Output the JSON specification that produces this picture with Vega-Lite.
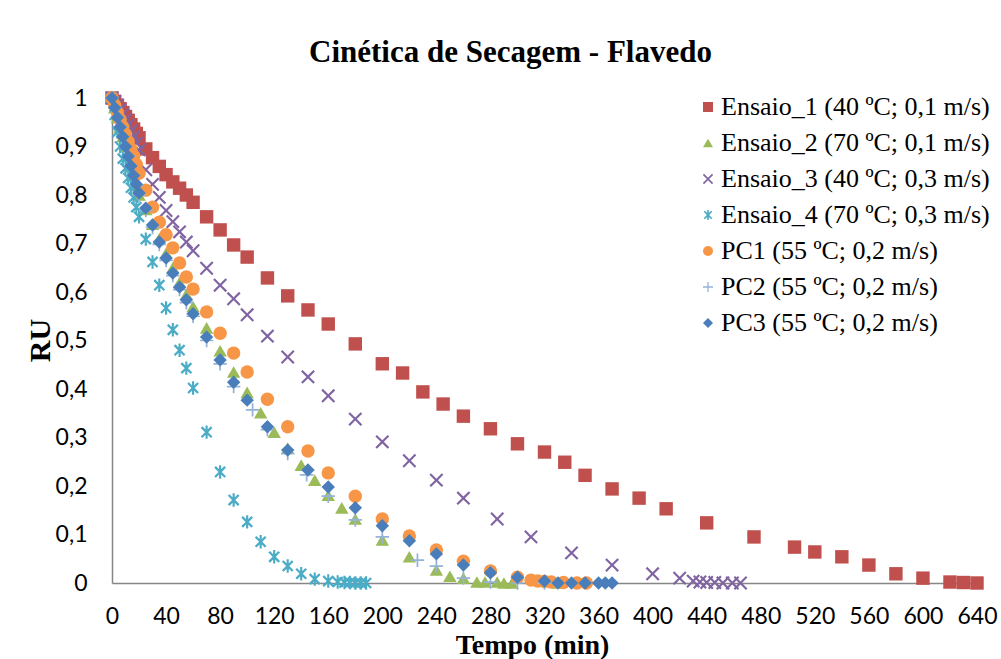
{
  "$schema": "https://vega.github.io/schema/vega-lite/v6.json",
  "width": 865,
  "height": 485,
  "autosize": "none",
  "padding": {"left": 112, "top": 98, "right": 24, "bottom": 76},
  "background": "white",
  "title": {"text": "Cinética de Secagem - Flavedo", "font": "Liberation Serif", "fontWeight": "bold", "fontSize": 31, "color": "black", "anchor": "middle", "frame": "group", "dx": -34, "baseline": "alphabetic", "offset": -6},
  "config": {"view": {"stroke": null}},
  "data": {"values": [
{"s":"E1","t":0,"ru":1},{"s":"E1","t":2,"ru":0.993},{"s":"E1","t":4,"ru":0.985},{"s":"E1","t":6,"ru":0.978},{"s":"E1","t":8,"ru":0.97},{"s":"E1","t":10,"ru":0.962},{"s":"E1","t":12,"ru":0.954},{"s":"E1","t":14,"ru":0.945},{"s":"E1","t":16,"ru":0.936},{"s":"E1","t":18,"ru":0.927},{"s":"E1","t":20,"ru":0.918},{"s":"E1","t":25,"ru":0.895},{"s":"E1","t":30,"ru":0.877},{"s":"E1","t":35,"ru":0.859},{"s":"E1","t":40,"ru":0.842},{"s":"E1","t":45,"ru":0.827},{"s":"E1","t":50,"ru":0.814},{"s":"E1","t":55,"ru":0.8},{"s":"E1","t":60,"ru":0.785},{"s":"E1","t":70,"ru":0.755},{"s":"E1","t":80,"ru":0.728},{"s":"E1","t":90,"ru":0.697},{"s":"E1","t":100,"ru":0.672},{"s":"E1","t":115,"ru":0.629},{"s":"E1","t":130,"ru":0.592},{"s":"E1","t":145,"ru":0.563},{"s":"E1","t":160,"ru":0.534},{"s":"E1","t":180,"ru":0.493},{"s":"E1","t":200,"ru":0.452},{"s":"E1","t":215,"ru":0.433},{"s":"E1","t":230,"ru":0.394},{"s":"E1","t":245,"ru":0.369},{"s":"E1","t":260,"ru":0.344},{"s":"E1","t":280,"ru":0.318},{"s":"E1","t":300,"ru":0.287},{"s":"E1","t":320,"ru":0.27},{"s":"E1","t":335,"ru":0.249},{"s":"E1","t":350,"ru":0.222},{"s":"E1","t":370,"ru":0.194},{"s":"E1","t":390,"ru":0.175},{"s":"E1","t":410,"ru":0.153},{"s":"E1","t":440,"ru":0.124},{"s":"E1","t":475,"ru":0.095},{"s":"E1","t":505,"ru":0.074},{"s":"E1","t":520,"ru":0.064},{"s":"E1","t":540,"ru":0.054},{"s":"E1","t":560,"ru":0.037},{"s":"E1","t":580,"ru":0.019},{"s":"E1","t":600,"ru":0.01},{"s":"E1","t":620,"ru":0.002},{"s":"E1","t":630,"ru":0.001},{"s":"E1","t":640,"ru":0},
{"s":"E2","t":0,"ru":1},{"s":"E2","t":2,"ru":0.98},{"s":"E2","t":4,"ru":0.96},{"s":"E2","t":6,"ru":0.94},{"s":"E2","t":8,"ru":0.92},{"s":"E2","t":10,"ru":0.9},{"s":"E2","t":12,"ru":0.88},{"s":"E2","t":14,"ru":0.86},{"s":"E2","t":16,"ru":0.84},{"s":"E2","t":18,"ru":0.82},{"s":"E2","t":20,"ru":0.8},{"s":"E2","t":25,"ru":0.77},{"s":"E2","t":30,"ru":0.74},{"s":"E2","t":35,"ru":0.71},{"s":"E2","t":40,"ru":0.68},{"s":"E2","t":45,"ru":0.65},{"s":"E2","t":50,"ru":0.62},{"s":"E2","t":55,"ru":0.595},{"s":"E2","t":60,"ru":0.57},{"s":"E2","t":70,"ru":0.526},{"s":"E2","t":80,"ru":0.479},{"s":"E2","t":90,"ru":0.435},{"s":"E2","t":100,"ru":0.393},{"s":"E2","t":110,"ru":0.351},{"s":"E2","t":120,"ru":0.311},{"s":"E2","t":130,"ru":0.278},{"s":"E2","t":140,"ru":0.243},{"s":"E2","t":150,"ru":0.212},{"s":"E2","t":160,"ru":0.181},{"s":"E2","t":170,"ru":0.155},{"s":"E2","t":180,"ru":0.132},{"s":"E2","t":200,"ru":0.089},{"s":"E2","t":220,"ru":0.054},{"s":"E2","t":240,"ru":0.027},{"s":"E2","t":250,"ru":0.014},{"s":"E2","t":260,"ru":0.01},{"s":"E2","t":270,"ru":0.002},{"s":"E2","t":276,"ru":0.002},{"s":"E2","t":285,"ru":0.002},{"s":"E2","t":290,"ru":0},{"s":"E2","t":296,"ru":0},{"s":"E2","t":330,"ru":0},
{"s":"E3","t":0,"ru":1},{"s":"E3","t":2,"ru":0.993},{"s":"E3","t":4,"ru":0.985},{"s":"E3","t":6,"ru":0.976},{"s":"E3","t":8,"ru":0.966},{"s":"E3","t":10,"ru":0.955},{"s":"E3","t":12,"ru":0.944},{"s":"E3","t":14,"ru":0.932},{"s":"E3","t":16,"ru":0.92},{"s":"E3","t":18,"ru":0.907},{"s":"E3","t":20,"ru":0.893},{"s":"E3","t":25,"ru":0.852},{"s":"E3","t":30,"ru":0.822},{"s":"E3","t":35,"ru":0.795},{"s":"E3","t":40,"ru":0.768},{"s":"E3","t":45,"ru":0.745},{"s":"E3","t":50,"ru":0.724},{"s":"E3","t":55,"ru":0.703},{"s":"E3","t":60,"ru":0.685},{"s":"E3","t":70,"ru":0.649},{"s":"E3","t":80,"ru":0.614},{"s":"E3","t":90,"ru":0.586},{"s":"E3","t":100,"ru":0.553},{"s":"E3","t":115,"ru":0.509},{"s":"E3","t":130,"ru":0.466},{"s":"E3","t":145,"ru":0.425},{"s":"E3","t":160,"ru":0.386},{"s":"E3","t":180,"ru":0.338},{"s":"E3","t":200,"ru":0.291},{"s":"E3","t":220,"ru":0.252},{"s":"E3","t":240,"ru":0.212},{"s":"E3","t":260,"ru":0.175},{"s":"E3","t":285,"ru":0.132},{"s":"E3","t":310,"ru":0.095},{"s":"E3","t":340,"ru":0.062},{"s":"E3","t":370,"ru":0.037},{"s":"E3","t":400,"ru":0.019},{"s":"E3","t":420,"ru":0.01},{"s":"E3","t":430,"ru":0.004},{"s":"E3","t":435,"ru":0.002},{"s":"E3","t":440,"ru":0.001},{"s":"E3","t":446,"ru":0.001},{"s":"E3","t":452,"ru":0},{"s":"E3","t":459,"ru":0},{"s":"E3","t":465,"ru":0},
{"s":"E4","t":0,"ru":1},{"s":"E4","t":2,"ru":0.965},{"s":"E4","t":4,"ru":0.93},{"s":"E4","t":6,"ru":0.9},{"s":"E4","t":8,"ru":0.875},{"s":"E4","t":10,"ru":0.855},{"s":"E4","t":12,"ru":0.835},{"s":"E4","t":14,"ru":0.815},{"s":"E4","t":16,"ru":0.795},{"s":"E4","t":18,"ru":0.775},{"s":"E4","t":20,"ru":0.755},{"s":"E4","t":25,"ru":0.709},{"s":"E4","t":30,"ru":0.662},{"s":"E4","t":35,"ru":0.614},{"s":"E4","t":40,"ru":0.567},{"s":"E4","t":45,"ru":0.522},{"s":"E4","t":50,"ru":0.48},{"s":"E4","t":55,"ru":0.443},{"s":"E4","t":60,"ru":0.402},{"s":"E4","t":70,"ru":0.311},{"s":"E4","t":80,"ru":0.229},{"s":"E4","t":90,"ru":0.171},{"s":"E4","t":100,"ru":0.126},{"s":"E4","t":110,"ru":0.085},{"s":"E4","t":120,"ru":0.054},{"s":"E4","t":130,"ru":0.035},{"s":"E4","t":140,"ru":0.019},{"s":"E4","t":150,"ru":0.008},{"s":"E4","t":160,"ru":0.004},{"s":"E4","t":167,"ru":0.002},{"s":"E4","t":172,"ru":0.001},{"s":"E4","t":176,"ru":0.001},{"s":"E4","t":180,"ru":0},{"s":"E4","t":184,"ru":0},{"s":"E4","t":188,"ru":0},
{"s":"PC1","t":0,"ru":1},{"s":"PC1","t":2,"ru":0.985},{"s":"PC1","t":4,"ru":0.97},{"s":"PC1","t":6,"ru":0.955},{"s":"PC1","t":8,"ru":0.94},{"s":"PC1","t":10,"ru":0.925},{"s":"PC1","t":12,"ru":0.91},{"s":"PC1","t":14,"ru":0.895},{"s":"PC1","t":16,"ru":0.88},{"s":"PC1","t":18,"ru":0.863},{"s":"PC1","t":20,"ru":0.845},{"s":"PC1","t":25,"ru":0.81},{"s":"PC1","t":30,"ru":0.775},{"s":"PC1","t":35,"ru":0.744},{"s":"PC1","t":40,"ru":0.718},{"s":"PC1","t":45,"ru":0.691},{"s":"PC1","t":50,"ru":0.66},{"s":"PC1","t":55,"ru":0.631},{"s":"PC1","t":60,"ru":0.606},{"s":"PC1","t":70,"ru":0.559},{"s":"PC1","t":80,"ru":0.515},{"s":"PC1","t":90,"ru":0.474},{"s":"PC1","t":100,"ru":0.435},{"s":"PC1","t":115,"ru":0.379},{"s":"PC1","t":130,"ru":0.322},{"s":"PC1","t":145,"ru":0.272},{"s":"PC1","t":160,"ru":0.227},{"s":"PC1","t":180,"ru":0.179},{"s":"PC1","t":200,"ru":0.132},{"s":"PC1","t":220,"ru":0.097},{"s":"PC1","t":240,"ru":0.068},{"s":"PC1","t":260,"ru":0.045},{"s":"PC1","t":280,"ru":0.025},{"s":"PC1","t":300,"ru":0.012},{"s":"PC1","t":310,"ru":0.006},{"s":"PC1","t":315,"ru":0.004},{"s":"PC1","t":320,"ru":0.003},{"s":"PC1","t":325,"ru":0.002},{"s":"PC1","t":334,"ru":0.001},{"s":"PC1","t":344,"ru":0},{"s":"PC1","t":351,"ru":0},
{"s":"PC2","t":0,"ru":1},{"s":"PC2","t":2,"ru":0.98},{"s":"PC2","t":4,"ru":0.96},{"s":"PC2","t":6,"ru":0.94},{"s":"PC2","t":8,"ru":0.92},{"s":"PC2","t":10,"ru":0.9},{"s":"PC2","t":12,"ru":0.88},{"s":"PC2","t":14,"ru":0.86},{"s":"PC2","t":16,"ru":0.84},{"s":"PC2","t":18,"ru":0.82},{"s":"PC2","t":20,"ru":0.8},{"s":"PC2","t":25,"ru":0.768},{"s":"PC2","t":30,"ru":0.733},{"s":"PC2","t":35,"ru":0.698},{"s":"PC2","t":40,"ru":0.665},{"s":"PC2","t":45,"ru":0.634},{"s":"PC2","t":50,"ru":0.605},{"s":"PC2","t":55,"ru":0.578},{"s":"PC2","t":60,"ru":0.55},{"s":"PC2","t":70,"ru":0.5},{"s":"PC2","t":80,"ru":0.452},{"s":"PC2","t":90,"ru":0.405},{"s":"PC2","t":104,"ru":0.357},{"s":"PC2","t":115,"ru":0.316},{"s":"PC2","t":130,"ru":0.267},{"s":"PC2","t":144,"ru":0.223},{"s":"PC2","t":160,"ru":0.179},{"s":"PC2","t":180,"ru":0.13},{"s":"PC2","t":200,"ru":0.095},{"s":"PC2","t":226,"ru":0.047},{"s":"PC2","t":240,"ru":0.035},{"s":"PC2","t":260,"ru":0.01},{"s":"PC2","t":280,"ru":0.002},{"s":"PC2","t":300,"ru":0},{"s":"PC2","t":320,"ru":0},
{"s":"PC3","t":0,"ru":1},{"s":"PC3","t":2,"ru":0.98},{"s":"PC3","t":4,"ru":0.96},{"s":"PC3","t":6,"ru":0.94},{"s":"PC3","t":8,"ru":0.92},{"s":"PC3","t":10,"ru":0.9},{"s":"PC3","t":12,"ru":0.88},{"s":"PC3","t":14,"ru":0.86},{"s":"PC3","t":16,"ru":0.84},{"s":"PC3","t":18,"ru":0.822},{"s":"PC3","t":20,"ru":0.804},{"s":"PC3","t":25,"ru":0.773},{"s":"PC3","t":30,"ru":0.738},{"s":"PC3","t":35,"ru":0.703},{"s":"PC3","t":40,"ru":0.67},{"s":"PC3","t":45,"ru":0.639},{"s":"PC3","t":50,"ru":0.61},{"s":"PC3","t":55,"ru":0.584},{"s":"PC3","t":60,"ru":0.555},{"s":"PC3","t":70,"ru":0.507},{"s":"PC3","t":80,"ru":0.46},{"s":"PC3","t":90,"ru":0.414},{"s":"PC3","t":100,"ru":0.377},{"s":"PC3","t":115,"ru":0.322},{"s":"PC3","t":130,"ru":0.274},{"s":"PC3","t":145,"ru":0.233},{"s":"PC3","t":160,"ru":0.198},{"s":"PC3","t":180,"ru":0.155},{"s":"PC3","t":200,"ru":0.118},{"s":"PC3","t":220,"ru":0.087},{"s":"PC3","t":240,"ru":0.06},{"s":"PC3","t":260,"ru":0.037},{"s":"PC3","t":280,"ru":0.021},{"s":"PC3","t":300,"ru":0.012},{"s":"PC3","t":320,"ru":0.004},{"s":"PC3","t":330,"ru":0},{"s":"PC3","t":340,"ru":0},{"s":"PC3","t":350,"ru":0},{"s":"PC3","t":360,"ru":0},{"s":"PC3","t":365,"ru":0},{"s":"PC3","t":370,"ru":0}
  ]},
  "mark": {"type": "point", "filled": true, "opacity": 1, "size": 180, "strokeWidth": 0},
  "encoding": {
    "x": {"field": "t", "type": "quantitative",
      "scale": {"domain": [0, 640], "nice": false, "zero": false},
      "axis": {"title": "Tempo (min)", "values": [0,40,80,120,160,200,240,280,320,360,400,440,480,520,560,600,640],
        "grid": false, "ticks": false, "domainColor": "#868686", "domainWidth": 1.5,
        "labelFont": "Lato", "labelFontSize": 23, "labelColor": "black", "labelPadding": 22, "labelFlush": false, "labelOverlap": false,
        "titleFont": "Liberation Serif", "titleFontWeight": "bold", "titleFontSize": 28, "titleColor": "black",
        "titleX": 420, "titleY": 62, "titleBaseline": "middle", "titleAnchor": null}},
    "y": {"field": "ru", "type": "quantitative",
      "scale": {"domain": [0, 1], "nice": false, "zero": false},
      "axis": {"title": "RU", "values": [0,0.1,0.2,0.3,0.4,0.5,0.6,0.7,0.8,0.9,1],
        "labelExpr": "replace(format(datum.value, '~g'), '.', ',')",
        "grid": false, "ticks": false, "domainColor": "#868686", "domainWidth": 1.5,
        "labelFont": "Lato", "labelFontSize": 23, "labelColor": "black", "labelPadding": 25, "labelFlush": false, "labelOverlap": false,
        "titleFont": "Liberation Serif", "titleFontWeight": "bold", "titleFontSize": 30, "titleColor": "black",
        "titleX": -72, "titleY": 242, "titleAngle": -90, "titleBaseline": "middle", "titleAlign": "center", "titleAnchor": null}},
    "color": {"field": "s", "type": "nominal",
      "scale": {"domain": ["E1","E2","E3","E4","PC1","PC2","PC3"],
        "range": ["#C0504D","#9BBB59","#8064A2","#4BACC6","#F79646","#95B3D7","#4A7EBB"]},
      "legend": {"title": null, "orient": "none", "legendX": 583, "legendY": -4, "padding": 0,
        "labelFont": "Liberation Serif", "labelFontSize": 26, "labelColor": "black", "labelOffset": 0, "labelLimit": 400,
        "symbolSize": 100, "rowPadding": 10, "symbolStrokeWidth": 0, "symbolOpacity": 1,
        "labelExpr": "datum.label == 'E1' ? 'Ensaio_1 (40 ºC; 0,1 m/s)' : datum.label == 'E2' ? 'Ensaio_2 (70 ºC; 0,1 m/s)' : datum.label == 'E3' ? 'Ensaio_3 (40 ºC; 0,3 m/s)' : datum.label == 'E4' ? 'Ensaio_4 (70 ºC; 0,3 m/s)' : datum.label == 'PC1' ? 'PC1 (55 ºC; 0,2 m/s)' : datum.label == 'PC2' ? 'PC2 (55 ºC; 0,2 m/s)' : 'PC3 (55 ºC; 0,2 m/s)'"}},
    "shape": {"field": "s", "type": "nominal",
      "scale": {"domain": ["E1","E2","E3","E4","PC1","PC2","PC3"],
        "range": ["square", "triangle-up",
          "M0.806,-1.032L1.032,-0.806L0.226,0L1.032,0.806L0.806,1.032L0,0.226L-0.806,1.032L-1.032,0.806L-0.226,0L-1.032,-0.806L-0.806,-1.032L0,-0.226Z",
          "M0.63,-0.87L0.87,-0.63L0.24,0L0.87,0.63L0.63,0.87L0,0.24L-0.63,0.87L-0.87,0.63L-0.24,0L-0.87,-0.63L-0.63,-0.87L0,-0.24ZM-0.16,-1L0.16,-1L0.16,1L-0.16,1Z",
          "circle",
          "M-0.13,-1L0.13,-1L0.13,-0.13L1,-0.13L1,0.13L0.13,0.13L0.13,1L-0.13,1L-0.13,0.13L-1,0.13L-1,-0.13L-0.13,-0.13Z",
          "diamond"]}}
  }
}
